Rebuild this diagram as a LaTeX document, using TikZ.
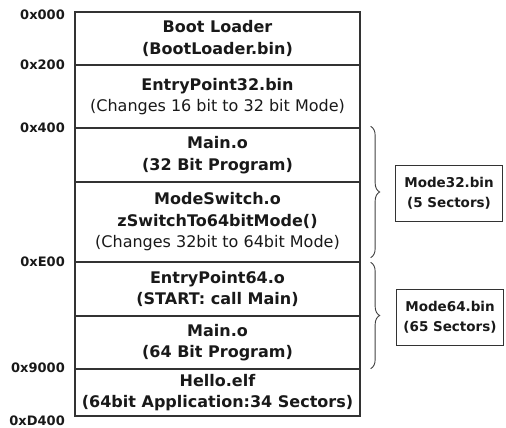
\documentclass[tikz,border=0pt]{standalone}
\usepackage{fontspec}
\setmainfont{DejaVu Sans}
\usetikzlibrary{positioning, decorations.pathreplacing}

\begin{document}
\begin{tikzpicture}[
    x=1pt, y=-1pt,
    segment/.style={
        draw=black!80, line width=1.3pt, minimum width=285pt, inner sep=0pt,
        align=center, font=\fontsize{16}{21.5}\selectfont\bfseries, text=black!90
    },
    addr/.style={
        anchor=east, inner sep=0pt, font=\fontsize{13}{14}\selectfont\bfseries, text=black!90
    },
    binbox/.style={
        draw=black!80, line width=0.8pt, minimum width=107pt, minimum height=56pt,
        align=center, font=\fontsize{13.5}{20}\selectfont\bfseries, text=black!90
    },
    grp/.style={
        decorate, decoration={brace, amplitude=9pt}, draw=black!75, line width=0.9pt
    }
]

    % Page size
    \useasboundingbox (0,0) rectangle (506,428);

    % Memory map segments
    \node[segment, minimum height=53pt] (boot) at (217.5, 38.5) {Boot Loader\\(BootLoader.bin)};
    \node[segment, minimum height=63pt] (ep32) at (217.5, 96.5) {EntryPoint32.bin\\\mdseries(Changes 16 bit to 32 bit Mode)};
    \node[segment, minimum height=54pt] (main32) at (217.5, 155) {Main.o\\(32 Bit Program)};
    \node[segment, minimum height=80pt] (mswitch) at (217.5, 222) {ModeSwitch.o\\zSwitchTo64bitMode()\\\mdseries(Changes 32bit to 64bit Mode)};
    \node[segment, minimum height=54pt] (ep64) at (217.5, 289) {EntryPoint64.o\\(START: call Main)};
    \node[segment, minimum height=53pt] (main64) at (217.5, 342.5) {Main.o\\(64 Bit Program)};
    \node[segment, minimum height=47pt] (hello) at (217.5, 392.5) {Hello.elf\\(64bit Application:34 Sectors)};

    % Addresses
    \node[addr] (a000) at (65, 15) {0x000};
    \node[addr] (a200) at (65, 65) {0x200};
    \node[addr] (a400) at (65, 128) {0x400};
    \node[addr] (ae00) at (65, 262) {0xE00};
    \node[addr] (a9000) at (65, 368) {0x9000};
    \node[addr] (ad400) at (65, 421) {0xD400};

    % Binary images
    \node[binbox] (mode32) at (449, 193) {Mode32.bin\\(5 Sectors)};
    \node[binbox] (mode64) at (450, 317.5) {Mode64.bin\\(65 Sectors)};

    % Braces
    \coordinate (b32top) at ([xshift=10pt, yshift=1pt]main32.north east);
    \coordinate (b32bot) at ([xshift=10pt, yshift=5pt]mswitch.south east);
    \coordinate (b64top) at ([xshift=10pt, yshift=-1pt]ep64.north east);
    \coordinate (b64bot) at ([xshift=10pt, yshift=1pt]main64.south east);
    \draw[grp] (b32top) -- (b32bot);
    \draw[grp] (b64top) -- (b64bot);

\end{tikzpicture}
\end{document}
